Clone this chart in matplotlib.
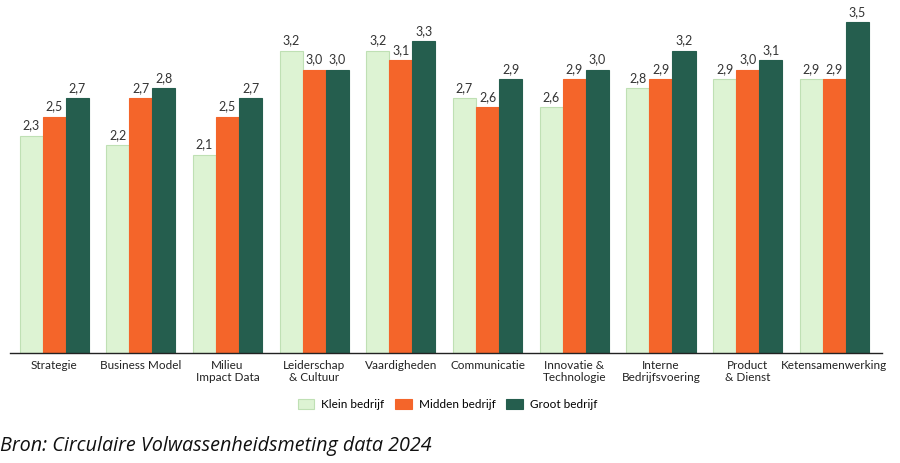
import numpy as np
import matplotlib.pyplot as plt

categories = ['Strategie', 'Business Model', 'Milieu\nImpact Data', 'Leiderschap\n& Cultuur',
              'Vaardigheden', 'Communicatie', 'Innovatie &\nTechnologie', 'Interne\nBedrijfsvoering',
              'Product\n& Dienst', 'Ketensamenwerking']
klein = [2.3, 2.2, 2.1, 3.2, 3.2, 2.7, 2.6, 2.8, 2.9, 2.9]
midden = [2.5, 2.7, 2.5, 3.0, 3.1, 2.6, 2.9, 2.9, 3.0, 2.9]
groot = [2.7, 2.8, 2.7, 3.0, 3.3, 2.9, 3.0, 3.2, 3.1, 3.5]
series_names = ['Klein bedrijf', 'Midden bedrijf', 'Groot bedrijf']

plt.rcParams['font.family'] = ['Lato', 'DejaVu Sans']

fig = plt.figure(figsize=(9, 4.63), dpi=100)
ax = fig.add_axes([0.011, 0.2376, 0.969, 0.755])

x = np.arange(len(categories))
w = 0.266
colors = ['#DDF3D3', '#F4652A', '#255E4E']
edges = ['#BFE0B4', '#F4652A', '#255E4E']
for i, (vals, name) in enumerate(zip([klein, midden, groot], series_names)):
    bars = ax.bar(x + (i - 1) * w, vals, w, color=colors[i], edgecolor=edges[i],
                  linewidth=0.8, label=name)
    ax.bar_label(bars, labels=[f'{v:.1f}'.replace('.', ',') for v in vals],
                 padding=3, fontsize=9, color='#333333')

ax.set_xlim(-0.51, 9.55)
ax.set_ylim(0, 3.7)
ax.set_xticks(x)
ax.set_xticklabels(categories, fontsize=8.5, color='#222222', linespacing=1.1)
ax.tick_params(axis='x', length=0, pad=5)
ax.set_yticks([])
for s in ['top', 'right', 'left']:
    ax.spines[s].set_visible(False)
ax.spines['bottom'].set_color('#222222')
ax.spines['bottom'].set_linewidth(1)

fig.legend(loc='center', bbox_to_anchor=(0.497, 0.127), ncol=3, frameon=False,
           fontsize=8.5, handlelength=1.4, handleheight=1.0, columnspacing=0.9,
           handletextpad=0.6)

fig.text(0.0, 0.026, 'Bron: Circulaire Volwassenheidsmeting data 2024', fontsize=14.2,
         style='italic', color='#111111', family=['Open Sans', 'DejaVu Sans'])

fig.savefig('out.png', dpi=100)
